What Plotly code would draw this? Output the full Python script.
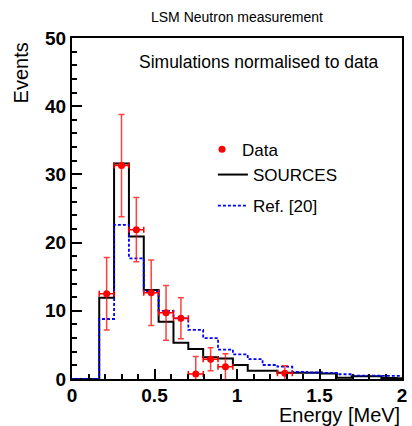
import plotly.graph_objects as go

# ---- data ----
bin_centers = [0.21, 0.30, 0.39, 0.48, 0.57, 0.66, 0.75, 0.84, 0.93, 1.02, 1.11,
               1.20, 1.29, 1.38, 1.47, 1.56, 1.65, 1.74, 1.83, 1.92, 2.01]
bin_width = 0.09
sources = [11.9, 31.6, 20.9, 13.05, 8.4, 5.3, 4.4, 3.2, 3.0, 2.05, 1.2,
           1.2, 0.9, 0.9, 0.9, 0.8, 0.2, 0.4, 0.4, 0.15, 0.1]
ref20 = [8.8, 22.6, 17.7, 12.8, 10.0, 8.9, 7.2, 6.0, 4.3, 3.6, 2.9,
         2.05, 1.8, 1.05, 0.95, 0.9, 0.7, 0.5, 0.5, 0.45, 0.45]

data_x = [0.21, 0.30, 0.39, 0.48, 0.57, 0.66, 0.75, 0.84, 0.93, 1.29]
data_y = [12.5, 31.3, 21.9, 12.65, 9.7, 8.9, 0.75, 2.9, 1.8, 0.85]
data_yerr = [5.3, 7.5, 4.7, 4.8, 4.0, 3.0, 2.55, 1.7, 1.9, 1.1]
data_xerr = [0.045] * 10

x_range = [0, 2]
y_range = [0, 50]

FONT = "Liberation Sans"


def step_xy(centers, values, width):
    lo = [c - width / 2 for c in centers]
    xs = [x_range[0]] + lo + [centers[-1] + width / 2]
    ys = [0] + list(values) + [values[-1]]
    return xs, ys


fig = go.Figure()

sx, sy = step_xy(bin_centers, sources, bin_width)
fig.add_trace(go.Scatter(
    x=sx, y=sy, mode="lines", line=dict(color="black", width=2, shape="hv"),
    name="SOURCES", legend="legend2", legendgroup="a"))

rx, ry = step_xy(bin_centers, ref20, bin_width)
fig.add_trace(go.Scatter(
    x=rx, y=ry, mode="lines",
    line=dict(color="#0000ff", width=1.8, shape="hv", dash="3px,2px"),
    name="Ref. [20]", legend="legend2", legendgroup="b"))

fig.add_trace(go.Scatter(
    x=data_x, y=data_y, mode="markers",
    marker=dict(color="#ff0000", size=7),
    error_y=dict(type="data", array=data_yerr, color="rgba(255,0,0,0.75)",
                 thickness=1.5, width=3),
    error_x=dict(type="data", array=data_xerr, color="#ff0000",
                 thickness=1.5, width=3),
    name="Data", legend="legend"))

axis_common = dict(
    showgrid=False, zeroline=False, showline=True, linecolor="black",
    linewidth=2, mirror=True, ticks="inside", tickcolor="black",
    ticklen=10, tickwidth=1.5,
    tickfont=dict(family=FONT, size=19, color="black", weight="bold"),
)

fig.update_xaxes(range=x_range, dtick=0.5, tick0=0, ticklabelstandoff=-2,
                 minor=dict(dtick=0.1, ticks="inside", ticklen=5,
                            tickcolor="black", tickwidth=1.5),
                 **axis_common)
fig.update_yaxes(range=y_range, dtick=10, tick0=0,
                 minor=dict(dtick=2, ticks="inside", ticklen=5,
                            tickcolor="black", tickwidth=1.5),
                 **axis_common)

fig.update_layout(
    width=412, height=426,
    margin=dict(l=72, r=5, t=38, b=47),
    paper_bgcolor="white", plot_bgcolor="white",
    font=dict(family=FONT, color="black"),
    showlegend=True,
    legend=dict(x=0.394, y=0.725, xanchor="left", yanchor="top",
                bgcolor="rgba(0,0,0,0)", font=dict(family=FONT, size=17),
                itemwidth=30),
    legend2=dict(x=0.427, y=0.651, xanchor="left", yanchor="top",
                 bgcolor="rgba(0,0,0,0)", font=dict(family=FONT, size=17),
                 itemwidth=30, tracegroupgap=6),
    annotations=[
        dict(text="LSM Neutron measurement", xref="paper", yref="paper",
             x=0.5015, y=1.0616, xanchor="center", yanchor="middle",
             showarrow=False, font=dict(family=FONT, size=14)),
        dict(text="Simulations normalised to data", xref="paper", yref="paper",
             x=0.5657, y=0.9296, xanchor="center", yanchor="middle",
             showarrow=False, font=dict(family=FONT, size=17.5)),
        dict(text="Events", xref="paper", yref="paper",
             x=-0.155, y=0.994, xanchor="center", yanchor="top",
             textangle=-90, showarrow=False, font=dict(family=FONT, size=20)),
        dict(text="Energy [MeV]", xref="paper", yref="paper",
             x=1.0, y=-0.106, xanchor="right", yanchor="middle",
             showarrow=False, font=dict(family=FONT, size=20)),
    ],
)

fig.write_html(
    "out.html",
    config={"displayModeBar": False},
    post_script="document.body.style.margin='0';document.body.style.overflow='hidden';",
)
